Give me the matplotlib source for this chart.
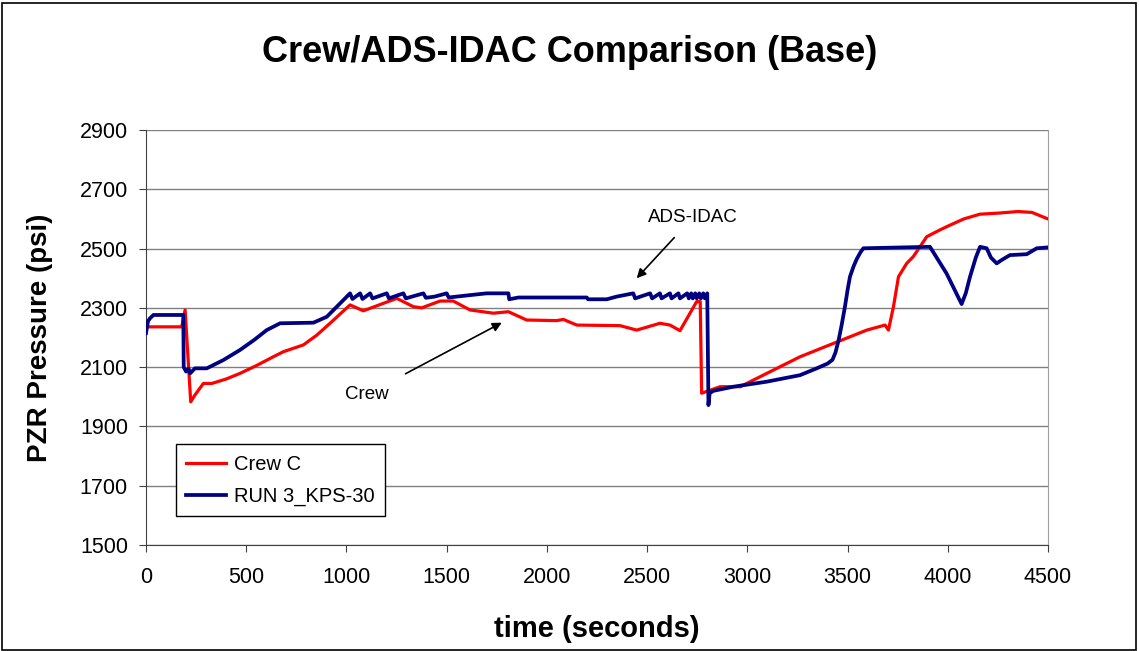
import matplotlib
matplotlib.use("Agg")
import matplotlib.pyplot as plt
from matplotlib.patches import Rectangle

plt.rcParams["font.family"] = ["Liberation Sans", "DejaVu Sans"]

# Crew C (red)
crew_t = [0, 178, 195, 223, 244, 286, 328, 400, 469, 550, 635, 685,
          785, 852, 918, 1018, 1084, 1251, 1334, 1375, 1467, 1533,
          1616, 1733, 1808, 1899, 2049, 2082, 2149, 2365, 2448, 2564,
          2614, 2664, 2747, 2765, 2772, 2864, 2964, 3097, 3263, 3429,
          3596, 3687, 3704, 3729, 3754, 3795, 3828, 3895, 3961, 4011,
          4080, 4160, 4260, 4350, 4420, 4500]
crew_p = [2236, 2236, 2293, 1983, 2006, 2045, 2045, 2060, 2079, 2105, 2135, 2152,
          2175, 2208, 2248, 2310, 2290, 2332, 2304, 2300, 2323, 2323,
          2293, 2282, 2287, 2259, 2257, 2261, 2242, 2240, 2225, 2248,
          2242, 2223, 2321, 2321, 2012, 2034, 2034, 2079, 2135, 2180,
          2225, 2242, 2225, 2304, 2405, 2450, 2473, 2540, 2563, 2579,
          2600, 2616, 2620, 2625, 2622, 2600]

# RUN 3_KPS-30 (navy)
run_t = [0, 10, 20, 37, 186, 188, 200, 212, 220, 244, 303, 386, 469, 540, 602, 669, 835, 902,
         1018, 1030, 1068, 1080, 1118, 1130, 1201, 1212, 1284, 1296, 1384, 1396, 1440,
         1500, 1510, 1616, 1700, 1808, 1812, 1858, 2199, 2205, 2299, 2348,
         2431, 2440, 2515, 2525, 2564, 2572, 2614, 2622, 2656, 2664, 2700, 2708,
         2720, 2728, 2740, 2748, 2760, 2768, 2780, 2788, 2800,
         2806, 2812, 2830, 2930, 3097, 3263, 3346, 3400, 3425, 3440, 3455, 3470, 3487, 3500,
         3512, 3530, 3546, 3565, 3579, 3911, 3994, 4069, 4090, 4111, 4140, 4161, 4194, 4215,
         4244, 4270, 4310, 4394, 4444, 4500]
run_p = [2215, 2255, 2265, 2276, 2276, 2100, 2085, 2095, 2079, 2096, 2096, 2124, 2158, 2192, 2225, 2248, 2250, 2270,
         2349, 2330, 2349, 2330, 2349, 2332, 2349, 2332, 2349, 2332, 2349, 2334, 2338,
         2349, 2335, 2343, 2349, 2349, 2329, 2335, 2335, 2329, 2329, 2338,
         2349, 2332, 2349, 2332, 2349, 2332, 2349, 2332, 2349, 2332, 2349, 2332,
         2349, 2332, 2349, 2332, 2349, 2332, 2349, 2332, 2349,
         1972, 2012, 2020, 2034, 2051, 2073, 2096, 2112, 2125, 2150, 2190, 2240, 2304, 2360,
         2405, 2440, 2465, 2488, 2501, 2506, 2416, 2313, 2350, 2405, 2470, 2506, 2501, 2470,
         2450, 2462, 2478, 2481, 2501, 2504]

x_ticks = [0, 500, 1000, 1500, 2000, 2500, 3000, 3500, 4000, 4500]
y_ticks = [1500, 1700, 1900, 2100, 2300, 2500, 2700, 2900]

fig = plt.figure(figsize=(11.39, 6.51), dpi=100)
ax = fig.add_axes([0.1282, 0.1628, 0.7919, 0.6375])

ax.plot(crew_t, crew_p, color="#ff0000", lw=2.3, label="Crew C", zorder=3)
ax.plot(run_t, run_p, color="#000080", lw=2.7, label="RUN 3_KPS-30", zorder=3)

ax.set_xlim(0, 4500)
ax.set_ylim(1500, 2900)
ax.set_xticks(x_ticks)
ax.set_yticks(y_ticks)
ax.tick_params(labelsize=15.5, length=5, direction="out", color="#404040")
ax.tick_params(axis="x", pad=11)
ax.tick_params(axis="y", pad=8)
ax.yaxis.grid(True, color="#808080", lw=1)
ax.set_axisbelow(True)
ax.spines["top"].set_visible(False)
ax.spines["right"].set_color("#a0a0a0")
ax.spines["left"].set_color("#404040")
ax.spines["bottom"].set_color("#404040")

# title is centred on the whole figure, not on the axes
fig.text(0.5, 0.92, "Crew/ADS-IDAC Comparison (Base)", fontsize=26, fontweight="bold",
         ha="center", va="center")
ax.set_xlabel("time (seconds)", fontsize=21, fontweight="bold", labelpad=19)
ax.set_ylabel("PZR Pressure (psi)", fontsize=20, fontweight="bold", labelpad=19)

ax.annotate("ADS-IDAC", xy=(2448, 2400), xytext=(2730, 2606), fontsize=13.5,
            ha="center", va="center",
            arrowprops=dict(arrowstyle="-|>", color="black", lw=1.2, shrinkA=9, shrinkB=0))
ax.annotate("Crew", xy=(1775, 2250), xytext=(1103, 2009), fontsize=13.5,
            ha="center", va="center",
            arrowprops=dict(arrowstyle="-|>", color="black", lw=1.2, shrinkA=14, shrinkB=0))

leg = ax.legend(loc="lower left", bbox_to_anchor=(0.033, 0.07), fontsize=14.5,
                fancybox=False, framealpha=1, edgecolor="black", handlelength=2.0,
                handletextpad=0.4, borderpad=0.5, labelspacing=0.65, borderaxespad=0)
leg.get_frame().set_linewidth(1)

fig.patches.append(Rectangle((0.002, 0.002), 0.995, 0.994, transform=fig.transFigure,
                             fill=False, ec="black", lw=1.2))

fig.savefig("out.png", dpi=100)
